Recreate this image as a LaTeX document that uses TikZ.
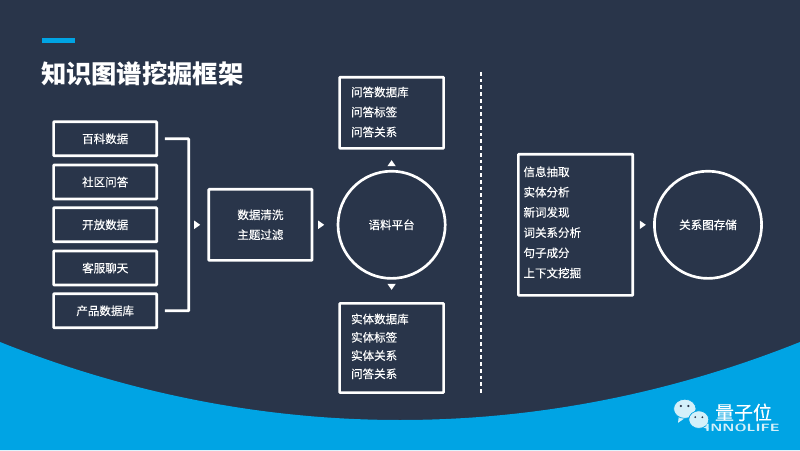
\documentclass[tikz,border=0pt]{standalone}
\usepackage{fontspec}
\setmainfont{Noto Sans CJK SC}
\newfontfamily\medfont[FakeBold=0.25]{Noto Sans CJK SC}
\usetikzlibrary{arrows.meta}
\usetikzlibrary{shapes.geometric}
\definecolor{slide}{HTML}{29354A}
\definecolor{wave}{HTML}{00A4E4}
\definecolor{pale}{HTML}{D4F0FA}
\tikzset{
  box/.style={draw=white,line width=1.9pt,rounded corners=0.5pt,text=white,font=\medfont\fontsize{8.2pt}{8.2pt}\selectfont},
  srcbox/.style={box,minimum width=2.58cm,minimum height=0.85cm},
  listtext/.style={text=white,font=\medfont\fontsize{8.2pt}{8.2pt}\selectfont,align=left,anchor=west,inner sep=0pt},
  round/.style={draw=white,line width=1.9pt,circle,minimum size=2.68cm,text=white,font=\medfont\fontsize{8.2pt}{8.2pt}\selectfont},
  tip/.style={fill=white,isosceles triangle,isosceles triangle apex angle=70,inner sep=0pt,minimum height=0.15cm,minimum width=0.2cm},
  line/.style={white,line width=1.9pt,rounded corners=0.5pt},
  bubble/.style={ellipse,fill=pale,draw=wave,line width=0.5pt,inner sep=0pt},
}
\begin{document}
\begin{tikzpicture}
  \useasboundingbox (0,0) rectangle (20,11.25);
  \fill[slide] (0,0) rectangle (20,11.25);
  \fill[wave] (0,2.7) .. controls (6.5,0.1) and (13.5,0.1) .. (20,2.7) -- (20,0) -- (0,0) -- cycle;
  \fill[wave] (1.05,10.3) rectangle (1.88,10.17);
  \node[text=white,anchor=west,font=\fontsize{18pt}{18pt}\selectfont\bfseries,inner sep=0pt] (title) at (1.02,9.4) {知识图谱挖掘框架};
  % sources
  \node[srcbox] (a) at (2.63,7.78) {百科数据};
  \node[srcbox] (b) at (2.63,6.70) {社区问答};
  \node[srcbox] (c) at (2.63,5.63) {开放数据};
  \node[srcbox] (d) at (2.63,4.55) {客服聊天};
  \node[srcbox] (e) at (2.63,3.48) {产品数据库};
  \coordinate (x) at (4.72,5.63);
  \coordinate (a1) at (4.12,7.78);
  \coordinate (e1) at (4.12,3.48);
  \draw[line] (a1) -- (a1 -| x) -- (e1 -| x) -- (e1);
  % middle
  \node[box,minimum width=2.58cm,minimum height=1.78cm,align=center] (clean) at (6.51,5.63) {数据清洗\\[6pt]主题过滤};
  \node[round] (corpus) at (9.79,5.63) {语料平台};
  \node[box,minimum width=2.6cm,minimum height=1.78cm] (qa) at (9.79,8.43) {};
  \node[box,minimum width=2.6cm,minimum height=2.23cm] (ent) at (9.79,2.55) {};
  \node[listtext] (qatext) at (8.77,8.45) {问答数据库\\[6pt]问答标签\\[6pt]问答关系};
  \node[listtext] (enttext) at (8.77,2.59) {实体数据库\\[4.8pt]实体标签\\[4.8pt]实体关系\\[4.8pt]问答关系};
  \node[tip] (t1) at (4.91,5.63) {};
  \node[tip] (t2) at (8.01,5.63) {};
  \node[tip,rotate=90] (t3) at (9.79,7.15) {};
  \node[tip,rotate=-90] (t4) at (9.79,4.1) {};
  % divider
  \coordinate (p) at (12.03,9.45);
  \coordinate (q) at (12.03,1.43);
  \draw[white,line width=1.2pt,dash pattern=on 2.6pt off 2.2pt] (p) -- (q);
  % right side
  \node[box,minimum width=2.86cm,minimum height=3.53cm] (ext) at (14.39,5.63) {};
  \node[listtext] (exttext) at (13.08,5.69) {信息抽取\\[6.2pt]实体分析\\[6.2pt]新词发现\\[6.2pt]词关系分析\\[6.2pt]句子成分\\[6.2pt]上下文挖掘};
  \node[tip] (t5) at (16.05,5.63) {};
  \node[round] (store) at (17.7,5.63) {关系图存储};
  % logo
  \fill[pale] (16.98,0.92) -- (16.95,0.68) -- (17.2,0.85) -- cycle;
  \node[bubble,minimum width=0.56cm,minimum height=0.48cm] (b1) at (17.12,1.03) {};
  \fill[pale] (17.62,0.66) -- (17.72,0.52) -- (17.45,0.6) -- cycle;
  \node[bubble,minimum width=0.5cm,minimum height=0.44cm] (b2) at (17.47,0.76) {};
  \fill[slide] (b1)++(-0.1,0.07) circle (0.03);
  \fill[slide] (b1)++(0.09,0.07) circle (0.03);
  \fill[slide] (b2)++(-0.09,0.06) circle (0.025);
  \fill[slide] (b2)++(0.09,0.06) circle (0.025);
  \node[text=pale,font=\sffamily\bfseries\fontsize{7.5pt}{7.5pt}\selectfont,anchor=west,inner sep=0pt,xscale=1.45] (inno) at (17.62,0.56) {INNOLIFE};
  \node[text=white,font=\medfont\fontsize{13.5pt}{13.5pt}\selectfont,anchor=west,inner sep=0pt] (logo) at (17.87,0.94) {量子位};
\end{tikzpicture}
\end{document}
